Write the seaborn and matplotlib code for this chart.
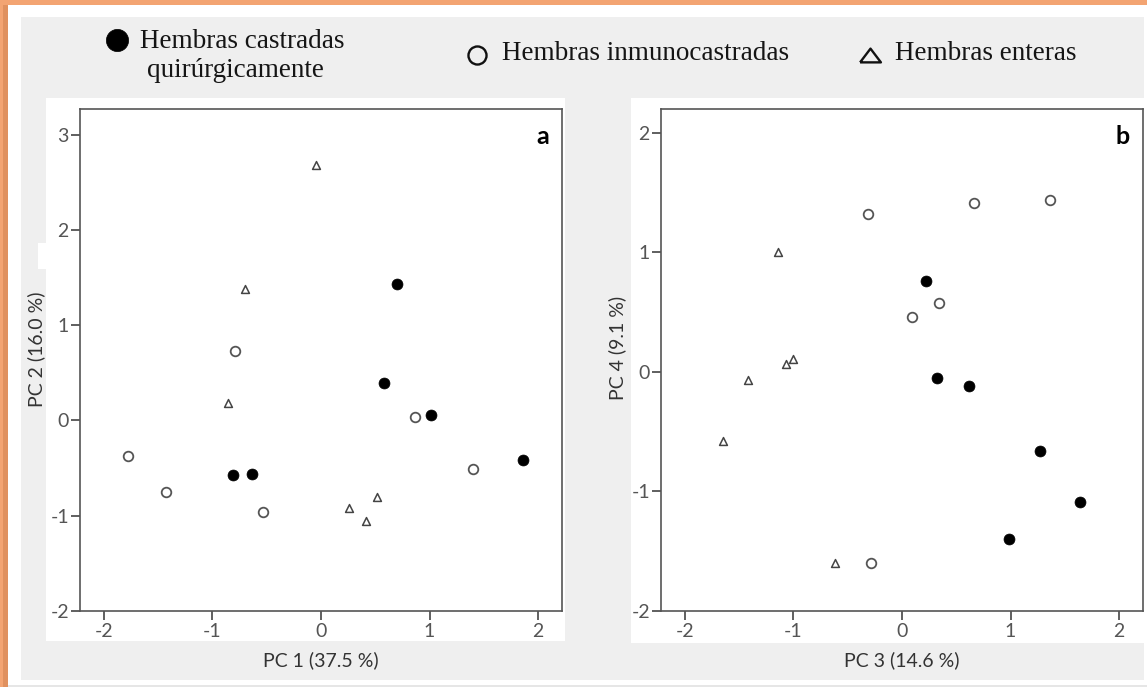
import numpy as np
import pandas as pd
import seaborn as sns
import matplotlib
matplotlib.use("Agg")
import matplotlib.pyplot as plt
from matplotlib.patches import Rectangle
from matplotlib.lines import Line2D

# ---------------- data ----------------
groups = ["Hembras castradas quirúrgicamente", "Hembras inmunocastradas", "Hembras enteras"]

pc1_castradas = [-0.81, -0.64, 0.70, 0.58, 1.01, 1.86]
pc2_castradas = [-0.57, -0.56, 1.43, 0.39, 0.06, -0.41]
pc1_inmuno = [-1.78, -1.43, -0.53, -0.79, 0.87, 1.40]
pc2_inmuno = [-0.37, -0.75, -0.96, 0.73, 0.04, -0.51]
pc1_enteras = [-0.05, -0.70, -0.86, 0.26, 0.41, 0.52]
pc2_enteras = [2.68, 1.38, 0.18, -0.92, -1.06, -0.80]

pc3_castradas = [0.22, 0.32, 0.62, 1.27, 1.64, 0.99]
pc4_castradas = [0.76, -0.05, -0.12, -0.66, -1.09, -1.40]
pc3_inmuno = [-0.31, 0.66, 1.36, 0.34, 0.09, -0.29]
pc4_inmuno = [1.32, 1.41, 1.44, 0.58, 0.46, -1.60]
pc3_enteras = [-1.14, -1.07, -1.00, -1.42, -1.65, -0.62]
pc4_enteras = [1.00, 0.07, 0.11, -0.07, -0.58, -1.60]

x_ticks = [-2, -1, 0, 1, 2]
y_ticks_a = [-2, -1, 0, 1, 2, 3]
y_ticks_b = [-2, -1, 0, 1, 2]
xlabel_a, ylabel_a = "PC 1 (37.5 %)", "PC 2 (16.0 %)"
xlabel_b, ylabel_b = "PC 3 (14.6 %)", "PC 4 (9.1 %)"

df_a = pd.DataFrame({
    "x": pc1_castradas + pc1_inmuno + pc1_enteras,
    "y": pc2_castradas + pc2_inmuno + pc2_enteras,
    "group": [groups[0]] * len(pc1_castradas) + [groups[1]] * len(pc1_inmuno) + [groups[2]] * len(pc1_enteras),
})
df_b = pd.DataFrame({
    "x": pc3_castradas + pc3_inmuno + pc3_enteras,
    "y": pc4_castradas + pc4_inmuno + pc4_enteras,
    "group": [groups[0]] * len(pc3_castradas) + [groups[1]] * len(pc3_inmuno) + [groups[2]] * len(pc3_enteras),
})

# ---------------- style ----------------
sns.set_style("white")
plt.rcParams["font.family"] = ["Lato", "DejaVu Sans"]
plt.rcParams["axes.unicode_minus"] = False

W, H = 1147, 687
fig = plt.figure(figsize=(W / 100, H / 100), dpi=100)
fig.patch.set_facecolor("#f3a472")


def rect_px(x0, y0, x1, y1, color, z):
    # pixel coords from top-left
    r = Rectangle((x0 / W, 1 - y1 / H), (x1 - x0) / W, (y1 - y0) / H,
                  transform=fig.transFigure, facecolor=color, edgecolor="none", zorder=z)
    fig.patches.append(r)


rect_px(3, 5, 8, H, "#e0915f", -21)
rect_px(8, 5, W, H, "#ffffff", -20)
rect_px(8, 685, W, H, "#e6e6e6", -19)
rect_px(20.5, 16.5, 1144, 680, "#efefef", -18)
rect_px(46, 98, 565, 641, "#ffffff", -17)
rect_px(631, 98, 1144, 643, "#ffffff", -17)
rect_px(38, 243, 46, 269, "#ffffff", -17)


def ax_px(x0, y0, x1, y1):
    return fig.add_axes([x0 / W, 1 - y1 / H, (x1 - x0) / W, (y1 - y0) / H])


ax_a = ax_px(80, 109, 562, 611)
ax_b = ax_px(661, 109, 1143, 611)

styles = {
    groups[0]: dict(marker="o", s=62, color="black", edgecolor="black", linewidth=0.5),
    groups[1]: dict(marker="o", s=48, color="white", edgecolor="#555555", linewidth=1.3),
    groups[2]: dict(marker="^", s=32, color="white", edgecolor="#444444", linewidth=1.1),
}


def draw(ax, df, yticks, ylim, xl, yl, tag, ylab_y):
    for g in groups:
        sub = df[df["group"] == g]
        sns.scatterplot(data=sub, x="x", y="y", ax=ax, legend=False, zorder=3, **styles[g])
    ax.set_facecolor("white")
    ax.set_xlim(-2.22, 2.22)
    ax.set_ylim(*ylim)
    ax.set_xticks(x_ticks)
    ax.set_yticks(yticks)
    ax.tick_params(direction="out", length=6.5, width=1.2, color="#444444",
                   labelcolor="#555555", labelsize=14, left=True, bottom=True)
    ax.tick_params(axis="x", pad=2)
    ax.tick_params(axis="y", pad=1.5)
    for sp in ax.spines.values():
        sp.set_color("#555555")
        sp.set_linewidth(1.2)
        sp.set_visible(True)
    ax.set_xlabel(xl, fontsize=14, color="#333333", va="center")
    ax.set_ylabel(yl, fontsize=14, color="#333333", va="center")
    ax.xaxis.set_label_coords(0.5, -0.0976)
    ax.yaxis.set_label_coords(-0.0913, ylab_y)
    ax.text(0.973, 0.931, tag, transform=ax.transAxes, ha="right", va="baseline",
            fontsize=18, fontweight="bold", color="black")


draw(ax_a, df_a, y_ticks_a, (-2, 3.27), xlabel_a, ylabel_a, "a", 0.522)
draw(ax_b, df_b, y_ticks_b, (-2, 2.2), xlabel_b, ylabel_b, "b", 0.524)

# ---------------- legend (top) ----------------
serif = ["Liberation Serif", "DejaVu Serif"]
tri = [(-1, -0.66), (1, -0.66), (0, 0.66), (-1, -0.66)]
leg_markers = [
    dict(x=116.7, y=39.5, marker="o", ms=16, mfc="black", mec="black", mew=0.5),
    dict(x=477, y=55, marker="o", ms=13, mfc="none", mec="#111111", mew=1.7),
    dict(x=870, y=55, marker=tri, ms=15, mfc="none", mec="#111111", mew=1.7),
]
for m in leg_markers:
    fig.add_artist(Line2D([m["x"] / W], [1 - m["y"] / H], transform=fig.transFigure,
                          marker=m["marker"], markersize=m["ms"], markerfacecolor=m["mfc"],
                          markeredgecolor=m["mec"], markeredgewidth=m["mew"], linestyle="none"))

leg_texts = [
    ("Hembras castradas", 140, 48),
    ("quirúrgicamente", 147, 77),
    ("Hembras inmunocastradas", 502, 60),
    ("Hembras enteras", 895, 60),
]
for t, x, y in leg_texts:
    fig.text(x / W, 1 - y / H, t, ha="left", va="baseline", fontsize=19.5,
             family=serif, color="#151515")

fig.savefig("out.png", dpi=100, facecolor=fig.get_facecolor())
